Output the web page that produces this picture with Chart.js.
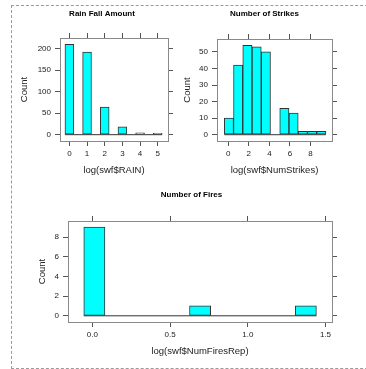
<!DOCTYPE html>
<html>
<head>
<meta charset="utf-8">
<script src="https://cdn.jsdelivr.net/npm/chart.js@4.4.0/dist/chart.umd.min.js"></script>
<style>
    body { margin: 0; background: #fff; width: 366px; height: 369px; overflow: hidden; position: relative; }
    canvas { position: absolute; }
    #marco { position: absolute; left: 11px; top: 5px; width: 400px; height: 362px; border: 1px dashed #9a9a9a; }
</style>
</head>
<body>
<div id="marco"></div>
<canvas id="graficaLluvia" width="192" height="180" style="left:0;top:0"></canvas>
<canvas id="graficaRayos" width="177" height="180" style="left:176px;top:0"></canvas>
<canvas id="graficaFuegos" width="343" height="189" style="left:20px;top:180px"></canvas>
<script>
// Datos: centro de cada intervalo y conteo
const lluviaCentros = [0, 0.5, 1, 1.5, 2, 2.5, 3, 3.5, 4, 4.5, 5];
const lluviaConteos = [210, 0, 192, 0, 64, 0, 18, 0, 4, 0, 3];
const lluviaTicksX = [0, 1, 2, 3, 4, 5];
const lluviaTicksY = [0, 50, 100, 150, 200];

const rayosCentros = [0.06, 0.96, 1.86, 2.76, 3.66, 4.56, 5.46, 6.36, 7.26, 8.16, 9.06];
const rayosConteos = [10, 42, 54, 53, 50, 0, 16, 13, 2, 2, 2];
const rayosTicksX = [0, 2, 4, 6, 8];
const rayosTicksY = [0, 10, 20, 30, 40, 50];

const fuegosCentros = [0.0126, 0.1487, 0.2848, 0.4209, 0.5570, 0.6931, 0.8292, 0.9653, 1.1014, 1.2375, 1.3736];
const fuegosConteos = [9, 0, 0, 0, 0, 1, 0, 0, 0, 0, 1];
const fuegosTicksX = [0, 0.5, 1, 1.5];
const fuegosEtiquetasX = ['0.0', '0.5', '1.0', '1.5'];
const fuegosTicksY = [0, 2, 4, 6, 8];

const fuente = "'Liberation Sans', Arial, sans-serif";

// Construye un histograma al estilo lattice en el canvas indicado
function dibujarHistograma(id, p) {
    const ancho = p.centros[1] - p.centros[0];
    const barras = p.centros.map((c, i) => ({ x: c, y: p.conteos[i] }));
    const linea = [
        { x: p.centros[0] - ancho / 2, y: 0 },
        { x: p.centros[p.centros.length - 1] + ancho / 2, y: 0 }
    ];
    const fijarTicks = lista => escala => { escala.ticks = lista.map(v => ({ value: v })); };

    const rejilla = { display: true, drawOnChartArea: false, drawTicks: true, tickLength: 5, color: '#555', offset: false };
    const borde = { display: true, color: '#8a8a8a', width: 1 };
    const letraTick = { family: fuente, size: 8 };
    const letraTitulo = { family: fuente, size: 9.5 };

    new Chart(document.getElementById(id), {
        type: 'bar',
        data: {
            datasets: [
                {
                    type: 'line',
                    data: linea,
                    borderColor: '#333',
                    borderWidth: 1,
                    pointRadius: 0,
                    xAxisID: 'x',
                    yAxisID: 'y'
                },
                {
                    data: barras,
                    backgroundColor: '#00ffff',
                    borderColor: '#333',
                    borderWidth: 1,
                    borderSkipped: false,
                    barPercentage: 1,
                    categoryPercentage: 1,
                    xAxisID: 'x',
                    yAxisID: 'y'
                }
            ]
        },
        options: {
            responsive: false,
            animation: false,
            devicePixelRatio: 1,
            layout: { padding: { left: p.padIzq, right: 0, top: 0, bottom: 0 } },
            plugins: {
                legend: { display: false },
                tooltip: { enabled: false },
                title: {
                    display: true,
                    text: p.titulo,
                    color: '#000',
                    font: { family: fuente, size: 8, weight: 'bold' },
                    padding: { top: p.tituloArriba, bottom: 0 }
                }
            },
            scales: {
                x: {
                    type: 'linear', position: 'bottom', min: p.rangoX[0], max: p.rangoX[1], offset: false,
                    grid: rejilla, border: borde,
                    afterBuildTicks: fijarTicks(p.ticksX),
                    afterFit: e => { e.height = p.altoAbajo; },
                    ticks: {
                        color: '#222', font: letraTick, padding: 3, maxRotation: 0,
                        callback: (v, i) => p.etiquetasX ? p.etiquetasX[i] : v
                    },
                    title: { display: true, text: p.tituloX, color: '#222', font: letraTitulo, padding: { bottom: p.tituloXPad, top: 0 } }
                },
                x2: {
                    type: 'linear', position: 'top', min: p.rangoX[0], max: p.rangoX[1], offset: false,
                    grid: rejilla, border: borde,
                    afterBuildTicks: fijarTicks(p.ticksX),
                    afterFit: e => { e.height = p.altoArriba; },
                    ticks: { display: false }
                },
                y: {
                    type: 'linear', position: 'left', min: p.rangoY[0], max: p.rangoY[1],
                    grid: rejilla, border: borde,
                    afterBuildTicks: fijarTicks(p.ticksY),
                    afterFit: e => { e.width = p.anchoIzq; },
                    ticks: { color: '#222', font: letraTick, padding: 4 },
                    title: { display: true, text: 'Count', color: '#222', font: letraTitulo, padding: { top: p.countPad, bottom: 0 } }
                },
                y2: {
                    type: 'linear', position: 'right', min: p.rangoY[0], max: p.rangoY[1],
                    grid: rejilla, border: borde,
                    afterBuildTicks: fijarTicks(p.ticksY),
                    afterFit: e => { e.width = p.anchoDer; },
                    ticks: { display: false }
                }
            }
        }
    });
}

dibujarHistograma('graficaLluvia', {
    centros: lluviaCentros, conteos: lluviaConteos,
    ticksX: lluviaTicksX, ticksY: lluviaTicksY,
    rangoX: [-0.53, 5.58], rangoY: [-14.7, 224.7],
    titulo: 'Rain Fall Amount', tituloX: 'log(swf$RAIN)',
    padIzq: 12, anchoIzq: 48, anchoDer: 24, altoArriba: 19.2, altoAbajo: 39,
    tituloArriba: 9.2, tituloXPad: 4.3, countPad: 6.3
});

dibujarHistograma('graficaRayos', {
    centros: rayosCentros, conteos: rayosConteos,
    ticksX: rayosTicksX, ticksY: rayosTicksY,
    rangoX: [-1.1, 10.1], rangoY: [-3.8, 57.8],
    titulo: 'Number of Strikes', tituloX: 'log(swf$NumStrikes)',
    padIzq: 0, anchoIzq: 41, anchoDer: 21, altoArriba: 20.2, altoAbajo: 39,
    tituloArriba: 9.2, tituloXPad: 4.3, countPad: 5.6
});

dibujarHistograma('graficaFuegos', {
    centros: fuegosCentros, conteos: fuegosConteos,
    ticksX: fuegosTicksX, ticksY: fuegosTicksY, etiquetasX: fuegosEtiquetasX,
    rangoX: [-0.157, 1.542], rangoY: [-0.63, 9.63],
    titulo: 'Number of Fires', tituloX: 'log(swf$NumFiresRep)',
    padIzq: 0, anchoIzq: 48, anchoDer: 31, altoArriba: 21.2, altoAbajo: 47,
    tituloArriba: 10.2, tituloXPad: 11.6, countPad: 16.3
});
</script>
</body>
</html>
